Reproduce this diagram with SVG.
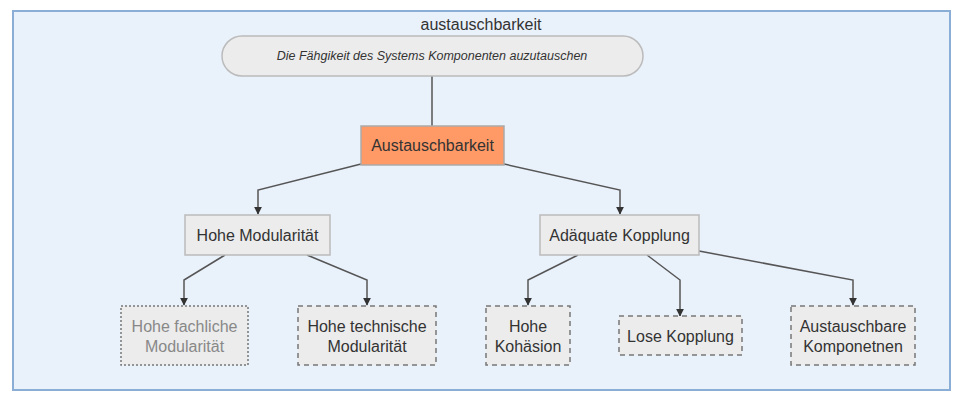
<svg xmlns="http://www.w3.org/2000/svg" width="962" height="403" viewBox="0 0 962 403">
<defs>
<marker id="arr" viewBox="0 0 10 10" refX="9" refY="5" markerWidth="8" markerHeight="8" markerUnits="userSpaceOnUse" orient="auto">
<path d="M0,0 L10,5 L0,10 z" fill="#333"/>
</marker>
<style>
text{font-family:"Liberation Sans",Arial,sans-serif;fill:#333;text-anchor:middle}
.lbl{font-size:16px}
.node{fill:#ececec;stroke:#bbb;stroke-width:1.5}
.leaf{fill:#ececec;stroke:#777;stroke-width:1.5;stroke-dasharray:5 4}
.dot{fill:#ececec;stroke:#777;stroke-width:1.5;stroke-dasharray:2 2}
.edge{fill:none;stroke:#555;stroke-width:1.5}
</style>
</defs>
<rect x="13" y="11" width="937" height="379" fill="#e9f1fb" stroke="#8aaed6" stroke-width="2"/>
<text x="481" y="30" class="lbl">austauschbarkeit</text>
<g id="edges">
<path class="edge" d="M432,76 L432,126"/>
<path class="edge" d="M361,164 L258,190 L258,214" marker-end="url(#arr)"/>
<path class="edge" d="M504,164 L620,190 L620,214" marker-end="url(#arr)"/>
<path class="edge" d="M225,255 L184,280 L184,305" marker-end="url(#arr)"/>
<path class="edge" d="M307,255 L367,280 L367,305" marker-end="url(#arr)"/>
<path class="edge" d="M578,255 L528,280 L528,305" marker-end="url(#arr)"/>
<path class="edge" d="M647,255 L680,280 L680,316" marker-end="url(#arr)"/>
<path class="edge" d="M699,251 L853,280 L853,305" marker-end="url(#arr)"/>
</g>
<g id="desc">
<rect x="222" y="36" width="421" height="40" rx="20" ry="20" fill="#ececec" stroke="#bbb" stroke-width="1.5"/>
<text x="432" y="60" font-size="12.5" font-style="italic">Die Fähgikeit des Systems Komponenten auzutauschen</text>
</g>
<g id="austausch">
<rect x="361" y="126" width="143" height="39" fill="#ff9966" stroke="#aaa" stroke-width="1.5"/>
<text x="432.5" y="151" class="lbl">Austauschbarkeit</text>
</g>
<g id="modularitaet">
<rect class="node" x="185" y="215" width="145" height="40"/>
<text x="257.5" y="241" class="lbl">Hohe Modularität</text>
</g>
<g id="kopplung">
<rect class="node" x="540" y="215" width="159" height="40"/>
<text x="619.5" y="241" class="lbl">Adäquate Kopplung</text>
</g>
<g id="fachlich">
<rect class="dot" x="121" y="306" width="127" height="59"/>
<text x="184.5" y="332" class="lbl" style="fill:#888">Hohe fachliche</text>
<text x="184.5" y="352" class="lbl" style="fill:#888">Modularität</text>
</g>
<g id="technisch">
<rect class="leaf" x="298" y="306" width="138" height="59"/>
<text x="367" y="332" class="lbl">Hohe technische</text>
<text x="367" y="352" class="lbl">Modularität</text>
</g>
<g id="kohaesion">
<rect class="leaf" x="486" y="306" width="84" height="59"/>
<text x="528" y="332" class="lbl">Hohe</text>
<text x="528" y="352" class="lbl">Kohäsion</text>
</g>
<g id="lose">
<rect class="leaf" x="619" y="316" width="123" height="39"/>
<text x="680.5" y="342" class="lbl">Lose Kopplung</text>
</g>
<g id="komponenten">
<rect class="leaf" x="791" y="306" width="124" height="59"/>
<text x="853" y="332" class="lbl">Austauschbare</text>
<text x="853" y="352" class="lbl">Komponetnen</text>
</g>
</svg>
